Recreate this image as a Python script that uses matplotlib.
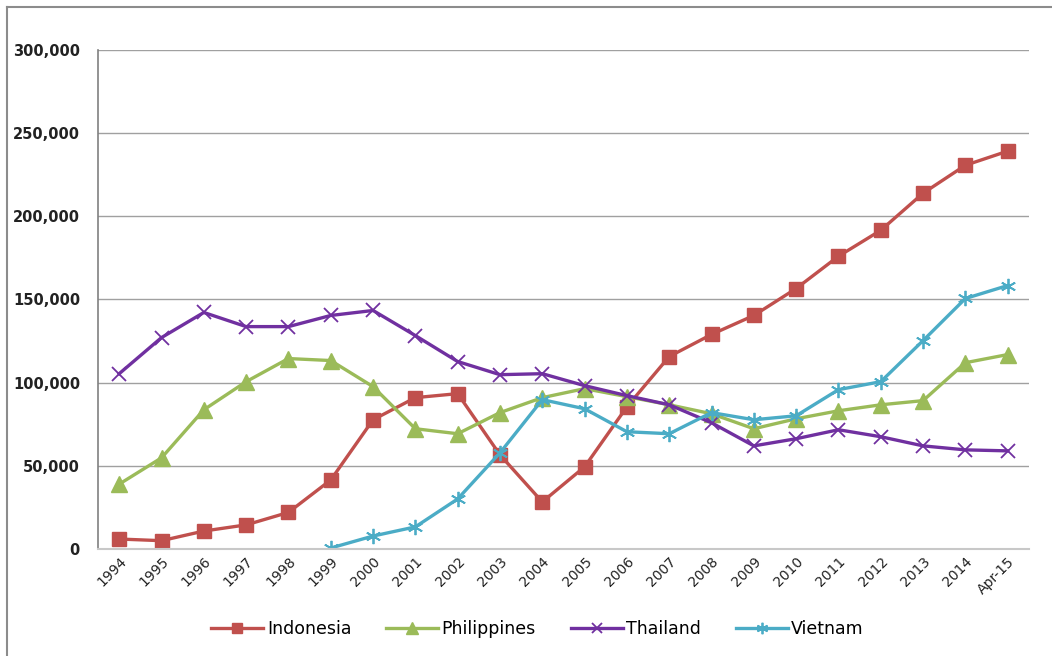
import matplotlib.pyplot as plt
from matplotlib.lines import Line2D
from matplotlib.ticker import FuncFormatter

# ----------- DATA -------------
years = ['1994', '1995', '1996', '1997', '1998', '1999', '2000', '2001', '2002', '2003',
         '2004', '2005', '2006', '2007', '2008', '2009', '2010', '2011', '2012', '2013',
         '2014', 'Apr-15']

indonesia = [6000, 5000, 10800, 14500, 22000, 41500, 77700, 91000, 93400, 56600,
             28300, 49400, 85500, 115700, 129000, 140400, 156600, 176000, 191600, 213900,
             230700, 239200]
philippines = [39000, 54800, 83700, 100600, 114500, 113300, 97600, 72300, 69300, 82000,
               91000, 96400, 91600, 86700, 81300, 72300, 78300, 83100, 86700, 89200,
               112000, 116900]
thailand = [105400, 127100, 142200, 133700, 133700, 140400, 143400, 128300, 112700, 104800,
            105400, 98200, 92200, 86700, 75900, 62000, 66300, 71700, 67500, 62000,
            59600, 59000]
# Vietnam starts in 1999
vietnam = [None] * 5 + [600, 7800, 13300, 30100, 57800, 89800, 84300, 70500, 69300, 82000,
                        77700, 80100, 95800, 100600, 125300, 150600, 158400]
# ------------------------------

fig = plt.figure(figsize=(10.52, 6.56), dpi=100)
ax = fig.add_axes([0.0932, 0.1631, 0.8848, 0.7607])

x = list(range(len(years)))
vx = [i for i, v in zip(x, vietnam) if v is not None]
vy = [v for v in vietnam if v is not None]

ax.plot(x, indonesia, color='#C0504D', lw=2.4, marker='s', ms=10, label='Indonesia')
ax.plot(x, philippines, color='#9BBB59', lw=2.4, marker='^', ms=11, label='Philippines')
ax.plot(x, thailand, color='#7030A0', lw=2.4, marker='x', ms=10, mew=1.3, label='Thailand')
ax.plot(vx, vy, color='#4BACC6', lw=2.4, marker=(6, 2, 0), ms=11, mew=1.3, label='Vietnam')

ax.set_xlim(-0.5, len(years) - 0.5)
ax.set_ylim(0, 300000)
ax.set_yticks(range(0, 300001, 50000))
ax.yaxis.set_major_formatter(FuncFormatter(lambda v, p: f'{int(v):,}'))
ax.set_xticks(x)
ax.set_xticklabels(years, rotation=45, ha='right', rotation_mode='anchor', fontsize=10)
for t in ax.get_yticklabels():
    t.set_fontweight('bold')
    t.set_fontsize(10.5)
ax.tick_params(axis='y', length=0, pad=13, colors='#222222')
ax.tick_params(axis='x', length=0, pad=4, colors='#222222')

ax.grid(axis='y', color='#A0A0A0', lw=1)
ax.set_axisbelow(True)
for s in ['top', 'right']:
    ax.spines[s].set_visible(False)
ax.spines['left'].set_color('#808080')
ax.spines['left'].set_linewidth(1.2)
ax.spines['bottom'].set_color('#C8C8C8')
ax.spines['bottom'].set_linewidth(1.5)

fig.legend(loc='center', bbox_to_anchor=(0.511, 0.041), ncol=4, frameon=False,
           fontsize=12.5, handlelength=3, columnspacing=2.0, handletextpad=0.2,
           markerscale=0.75)

# outer frame (top and left edges are visible)
fig.add_artist(Line2D([7 / 1052, 7 / 1052], [0, 1 - 7 / 656], transform=fig.transFigure,
                      color='#8C8C8C', lw=1.5))
fig.add_artist(Line2D([7 / 1052, 1], [1 - 7 / 656, 1 - 7 / 656], transform=fig.transFigure,
                      color='#8C8C8C', lw=1.5))

fig.savefig('out.png', dpi=100)
